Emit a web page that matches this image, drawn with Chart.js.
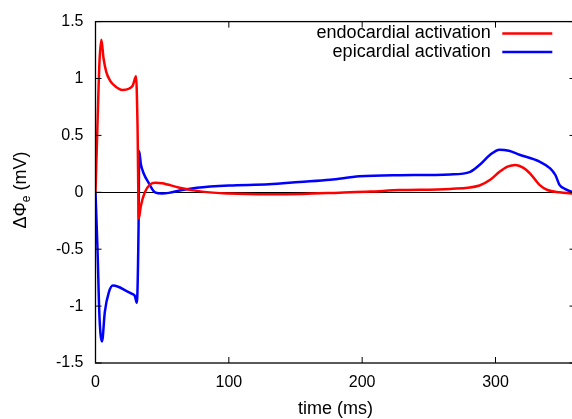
<!DOCTYPE html>
<html><head><meta charset="utf-8">
<script src="https://cdn.jsdelivr.net/npm/chart.js@4/dist/chart.umd.min.js"></script>
<style>html,body{margin:0;padding:0;background:#fff;overflow:hidden}#wrap{width:572px;height:419px;overflow:hidden;position:relative}canvas{display:block}</style>
</head><body><div id="wrap"><canvas id="c" width="580" height="419" style="width:580px;height:419px"></canvas></div>
<script>
// time (ms) and potential difference (mV)
const endoTime   = [0,1.5,3,4.4,6,8,11,15,20,25,28,30.4,31.5,32.5,34,37,41,45,50,63,80,100,130,155,183,206,228,266,288,296,303,309,315,321,326,333,339,348,357,360];
const endoValues = [0,0.6,1.15,1.34,1.18,1.06,0.98,0.93,0.90,0.91,0.94,1.02,0.6,-0.23,-0.12,0.0,0.07,0.085,0.08,0.04,0.006,-0.01,-0.017,-0.014,-0.003,0.006,0.02,0.03,0.06,0.11,0.18,0.225,0.24,0.215,0.165,0.065,0.02,0,-0.01,-0.01];
const epiTime    = [0,1.5,3,4.9,7,10,13,17,22,27,29.5,31,32.3,32.8,34,36,40,44.6,50,55,65,76,100,130,153,176,198,228,266,281,288,296,303,310,318,333,341,345,348,352,357,360];
const epiValues  = [0,-0.5,-1.1,-1.31,-1.05,-0.88,-0.82,-0.83,-0.86,-0.89,-0.91,-0.97,-0.3,0.36,0.25,0.17,0.08,0.0,-0.01,-0.005,0.02,0.04,0.06,0.07,0.09,0.11,0.14,0.15,0.157,0.18,0.24,0.33,0.375,0.365,0.33,0.27,0.21,0.15,0.065,0.03,0.006,0.003];
const xTicks = [0,100,200,300];
const yTicks = [-1.5,-1,-0.5,0,0.5,1,1.5];
const seriesLabels = ['endocardial activation','epicardial activation'];
const seriesColors = ['#ff0000','#0000ff'];
const xTitle = 'time (ms)';

const FONT = '"Liberation Sans", Arial, Helvetica, sans-serif';
const toXY = (t, v) => t.map((x, i) => ({x, y: v[i]}));

const gnuplotPlugin = {
  id: 'gnuplotFrame',
  beforeDatasetsDraw(chart) {
    const {ctx, chartArea: a, scales: {y}} = chart;
    const y0 = y.getPixelForValue(0);
    ctx.save();
    ctx.strokeStyle = '#000'; ctx.lineWidth = 1;
    ctx.beginPath(); ctx.moveTo(a.left, Math.round(y0)+0.5); ctx.lineTo(a.right, Math.round(y0)+0.5); ctx.stroke();
    ctx.restore();
  },
  afterDatasetsDraw(chart) {
    const {ctx, chartArea: a, scales: {x, y}} = chart;
    ctx.save();
    ctx.strokeStyle = '#000'; ctx.lineWidth = 1.3;
    ctx.strokeRect(a.left, a.top, a.right - a.left, a.bottom - a.top);
    ctx.lineWidth = 1;
    const L = 6;
    ctx.beginPath();
    xTicks.forEach(v => { const px = x.getPixelForValue(v);
      ctx.moveTo(px, a.bottom); ctx.lineTo(px, a.bottom - L);
      ctx.moveTo(px, a.top); ctx.lineTo(px, a.top + L); });
    yTicks.forEach(v => { const py = y.getPixelForValue(v);
      ctx.moveTo(a.left, py); ctx.lineTo(a.left + L, py);
      ctx.moveTo(a.right, py); ctx.lineTo(a.right - L, py); });
    ctx.stroke();
    ctx.restore();
  },
  afterDraw(chart) {
    const {ctx} = chart;
    ctx.save();
    // legend
    ctx.font = '18px ' + FONT;
    ctx.textAlign = 'right'; ctx.textBaseline = 'middle'; ctx.fillStyle = '#000';
    seriesLabels.forEach((lab, i) => {
      const yy = 33.5 + i * 18.4;
      ctx.fillText(lab, 490.7, yy);
      ctx.strokeStyle = seriesColors[i]; ctx.lineWidth = 2.5;
      ctx.beginPath(); ctx.moveTo(502.3, yy); ctx.lineTo(552.3, yy); ctx.stroke();
    });
    // y title with subscript
    ctx.translate(26, 190); ctx.rotate(-Math.PI / 2);
    ctx.textAlign = 'left'; ctx.textBaseline = 'alphabetic';
    const big = '18px ' + FONT, small = '12px ' + FONT;
    ctx.font = big; const w1 = ctx.measureText('\u0394\u03A6').width;
    ctx.font = small; const w2 = ctx.measureText('e').width;
    ctx.font = big; const w3 = ctx.measureText(' (mV)').width;
    let sx = -(w1 + w2 + w3) / 2;
    ctx.font = big; ctx.fillText('\u0394\u03A6', sx, 0); sx += w1;
    ctx.font = small; ctx.fillText('e', sx, 4); sx += w2;
    ctx.font = big; ctx.fillText(' (mV)', sx, 0);
    ctx.restore();
  }
};

new Chart(document.getElementById('c'), {
  type: 'line',
  data: {
    datasets: [
      {label: seriesLabels[0], data: toXY(endoTime, endoValues), borderColor: seriesColors[0], borderWidth: 2.5, pointRadius: 0, cubicInterpolationMode: 'monotone', fill: false},
      {label: seriesLabels[1], data: toXY(epiTime, epiValues), borderColor: seriesColors[1], borderWidth: 2.5, pointRadius: 0, cubicInterpolationMode: 'monotone', fill: false}
    ]
  },
  options: {
    responsive: false, animation: false, devicePixelRatio: 1,
    layout: {padding: {left: 0, right: 4.5, top: 18, bottom: 0}},
    plugins: {legend: {display: false}, tooltip: {enabled: false}},
    scales: {
      x: {
        type: 'linear', min: 0, max: 360,
        afterBuildTicks: s => { s.ticks = xTicks.map(v => ({value: v})); },
        afterFit: s => { s.height = 56; },
        grid: {display: false, drawTicks: false},
        border: {display: false},
        ticks: {padding: 10, color: '#000', font: {family: FONT, size: 16}, maxRotation: 0, autoSkip: false, callback: v => String(v)},
        title: {display: true, text: xTitle, color: '#000', font: {family: FONT, size: 18}, padding: {top: 0, bottom: -1}}
      },
      y: {
        type: 'linear', min: -1.5, max: 1.5,
        afterBuildTicks: s => { s.ticks = yTicks.map(v => ({value: v})); },
        afterFit: s => { s.width = 95.5; },
        grid: {display: false, drawTicks: false},
        border: {display: false},
        ticks: {padding: 12, color: '#000', font: {family: FONT, size: 16}, autoSkip: false, callback: v => String(v)}
      }
    }
  },
  plugins: [gnuplotPlugin]
});
</script>
</body></html>
